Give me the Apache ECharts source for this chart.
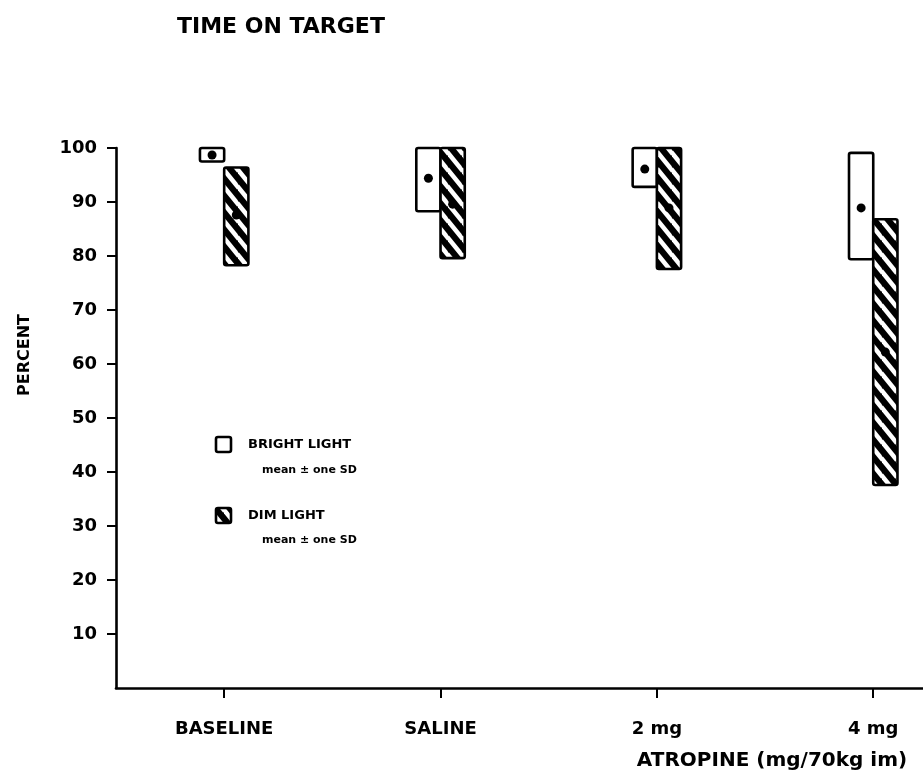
<!DOCTYPE html>
<html>
<head>
<meta charset="utf-8">
<script src="https://cdn.jsdelivr.net/npm/echarts@6/dist/echarts.min.js"></script>
<style>
html,body{margin:0;padding:0;background:#fff;}
#chart{width:923px;height:774px;}
</style>
</head>
<body>
<div id="chart"></div>
<script>
// ---- data ----
const categories = ['BASELINE', 'SALINE', '2 mg', '4 mg'];
const brightLow  = [97.5, 88.3, 92.8, 79.4];
const brightHigh = [100, 100, 100, 99.1];
const brightMean = [98.7, 94.4, 96.1, 88.9];
const dimLow  = [78.3, 79.6, 77.6, 37.6];
const dimHigh = [96.4, 100, 100, 86.8];
const dimMean = [87.6, 89.6, 88.9, 62.2];
const yTicks = [10, 20, 30, 40, 50, 60, 70, 80, 90, 100];
const xTicks = [0, 1, 2, 3];

const FONT = "'DejaVu Sans', sans-serif";

// hatch pattern: black with white diagonal stripes
function makeHatch() {
  const w = 14, h = 17;
  const c = document.createElement('canvas');
  c.width = w; c.height = h;
  const ctx = c.getContext('2d');
  ctx.fillStyle = '#000';
  ctx.fillRect(0, 0, w, h);
  ctx.strokeStyle = '#fff';
  ctx.lineWidth = 4.6;
  for (let k = -1; k <= 1; k++) {
    ctx.beginPath();
    ctx.moveTo(-1, k * h - h / w);
    ctx.lineTo(w + 1, k * h + h + h / w);
    ctx.stroke();
  }
  return c;
}
const hatch = { type: 'pattern', image: makeHatch(), repeat: 'repeat' };

const BOX_W = 0.112;

function makeRender(side, fill) {
  return function (params, api) {
    const x = api.value(0);
    const pLo = api.coord([x, api.value(1)]);
    const pHi = api.coord([x, api.value(2)]);
    const pM = api.coord([x, api.value(3)]);
    const w = api.size([BOX_W, 0])[0];
    const x0 = side < 0 ? pLo[0] - w : pLo[0];
    return {
      type: 'group',
      children: [
        { type: 'rect', shape: { x: x0, y: pHi[1], width: w, height: pLo[1] - pHi[1], r: 2 },
          style: { fill: fill, stroke: '#000', lineWidth: 2.6 } },
        { type: 'circle', shape: { cx: x0 + w / 2, cy: pM[1], r: 4.5 },
          style: { fill: '#000' } }
      ]
    };
  };
}

const brightData = categories.map((c, i) => [i, brightLow[i], brightHigh[i], brightMean[i]]);
const dimData = categories.map((c, i) => [i, dimLow[i], dimHigh[i], dimMean[i]]);

const chart = echarts.init(document.getElementById('chart'));
chart.setOption({
  animation: false,
  backgroundColor: '#fff',
  title: {
    text: 'TIME ON TARGET',
    left: 172, top: 11,
    textStyle: { fontFamily: FONT, fontWeight: 'bold', fontSize: 22, color: '#000' }
  },
  grid: { left: 116, right: 0, top: 148, bottom: 86 },
  xAxis: {
    type: 'value', min: -0.5, max: 3.23,
    splitLine: { show: false },
    axisLine: { show: true, onZero: false, lineStyle: { color: '#000', width: 2.6 } },
    axisTick: { show: true, customValues: xTicks, length: 10, lineStyle: { color: '#000', width: 2 } },
    axisLabel: {
      customValues: xTicks,
      formatter: v => categories[Math.round(v)] || '',
      margin: 32,
      fontFamily: FONT, fontWeight: 'bold', fontSize: 18, color: '#000'
    }
  },
  yAxis: {
    type: 'value', min: 0, max: 100, interval: 10,
    splitLine: { show: false },
    axisLine: { show: true, onZero: false, lineStyle: { color: '#000', width: 2.6 } },
    axisTick: { show: true, customValues: yTicks, length: 9, lineStyle: { color: '#000', width: 2 } },
    axisLabel: {
      customValues: yTicks,
      margin: 19,
      fontFamily: FONT, fontWeight: 'bold', fontSize: 18, color: '#000'
    }
  },
  graphic: [
    { type: 'text', x: 25, y: 355, rotation: Math.PI / 2,
      style: { text: 'PERCENT', fontFamily: FONT, fontWeight: 'bold', fontSize: 16, fill: '#000',
               align: 'center', verticalAlign: 'middle' } },
    { type: 'text', x: 772, y: 761,
      style: { text: 'ATROPINE (mg/70kg im)', fontFamily: FONT, fontWeight: 'bold', fontSize: 20, fill: '#000',
               align: 'center', verticalAlign: 'middle' } },
    // legend
    { type: 'rect', shape: { x: 216, y: 437, width: 15, height: 15, r: 2 },
      style: { fill: '#fff', stroke: '#000', lineWidth: 2.6 } },
    { type: 'text', x: 248, y: 445,
      style: { text: 'BRIGHT LIGHT', fontFamily: FONT, fontWeight: 'bold', fontSize: 13, fill: '#000', verticalAlign: 'middle' } },
    { type: 'text', x: 262, y: 470,
      style: { text: 'mean ± one SD', fontFamily: FONT, fontWeight: 'bold', fontSize: 11, fill: '#000', verticalAlign: 'middle' } },
    { type: 'rect', shape: { x: 216, y: 508, width: 15, height: 15, r: 2 },
      style: { fill: hatch, stroke: '#000', lineWidth: 2.6 } },
    { type: 'text', x: 248, y: 516,
      style: { text: 'DIM LIGHT', fontFamily: FONT, fontWeight: 'bold', fontSize: 13, fill: '#000', verticalAlign: 'middle' } },
    { type: 'text', x: 262, y: 540,
      style: { text: 'mean ± one SD', fontFamily: FONT, fontWeight: 'bold', fontSize: 11, fill: '#000', verticalAlign: 'middle' } }
  ],
  series: [
    { type: 'custom', name: 'BRIGHT LIGHT', data: brightData, renderItem: makeRender(-1, '#fff'),
      encode: { x: 0, y: [1, 2, 3] }, clip: false },
    { type: 'custom', name: 'DIM LIGHT', data: dimData, renderItem: makeRender(1, hatch),
      encode: { x: 0, y: [1, 2, 3] }, clip: false }
  ]
});
</script>
</body>
</html>
